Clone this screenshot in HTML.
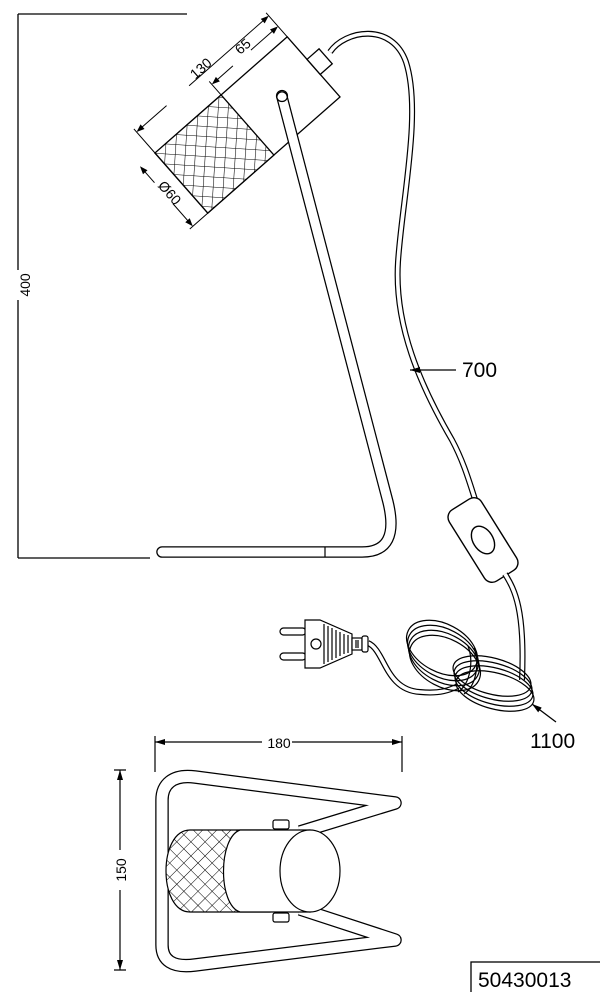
<!DOCTYPE html>
<html><head><meta charset="utf-8"><style>
html,body{margin:0;padding:0;background:#fff;}
svg{display:block;}
text{font-family:"Liberation Sans",sans-serif;fill:#000;}
</style></head><body>
<svg width="600" height="992" viewBox="0 0 600 992" xmlns="http://www.w3.org/2000/svg">
<defs>
<pattern id="mesh" width="10" height="10" patternUnits="userSpaceOnUse" patternTransform="rotate(45)">
<rect width="10" height="10" fill="#fff"/>
<path d="M0 0H10M0 0V10" stroke="#000" stroke-width="1.1"/>
</pattern>
<pattern id="mesh2" width="10" height="10" patternUnits="userSpaceOnUse" patternTransform="rotate(45)">
<rect width="10" height="10" fill="#fff"/>
<path d="M0 0H10M0 0V10" stroke="#000" stroke-width="1"/>
</pattern>
<marker id="ar" markerWidth="10" markerHeight="6" refX="10" refY="3" orient="auto" markerUnits="userSpaceOnUse">
<path d="M0 0L10 3L0 6z" fill="#000"/>
</marker>
</defs>
<g fill="none" stroke="#000" stroke-width="1.3">
<path d="M18 14H187M18 558H150M18 14V270M18 300V558"/>
</g>
<text transform="translate(30,285) rotate(-90)" font-size="14" text-anchor="middle">400</text>

<!-- cord top -->
<path d="M330 52 C345 30 392 22 406 62 C422 112 402 200 398 262 C394 325 420 385 452 440 C466 466 472 492 478 508" fill="none" stroke="#000" stroke-width="6"/>
<path d="M330 52 C345 30 392 22 406 62 C422 112 402 200 398 262 C394 325 420 385 452 440 C466 466 472 492 478 508" fill="none" stroke="#fff" stroke-width="3.6"/>

<!-- lamp head -->
<g transform="translate(155,153) rotate(-41.3)" stroke="#000" stroke-width="1.3">
<rect x="0" y="0" width="176" height="80" fill="#fff"/>
<rect x="0" y="0" width="88" height="80" fill="url(#mesh)"/>
<rect x="176" y="30" width="16" height="20" fill="#fff"/>
<path d="M0 0V-32M176 0V-32M88 0V-18" fill="none" stroke-width="1"/>
<path d="M2 -28H40M70 -28H174" fill="none" stroke-width="1"/>
<path d="M90 -14H116M140 -14H174" fill="none" stroke-width="1"/>
<path d="M0 80H-24M-20 2V22M-20 50V78" fill="none" stroke-width="1"/>
<path d="M0 -28L8 -31V-25z M176 -28L168 -31V-25z M176 -14L168 -17V-11z M88 -14L96 -17V-11z M-20 0L-23 8H-17z M-20 80L-23 72H-17z" fill="#000" stroke="none"/>
</g>
<text transform="translate(204,72) rotate(-41.3)" font-size="14" text-anchor="middle">130</text>
<text transform="translate(246,50) rotate(-41.3)" font-size="14" text-anchor="middle">65</text>
<text transform="translate(166,196) rotate(48.7)" font-size="14" text-anchor="middle">Ø60</text>

<!-- stem & base (tube) -->
<path d="M282 97 L388 502 C396 535 388 552 362 552 L162 552" fill="none" stroke="#000" stroke-width="11.5" stroke-linecap="round"/>
<path d="M282 97 L388 502 C396 535 388 552 362 552 L162 552" fill="none" stroke="#fff" stroke-width="9" stroke-linecap="round"/>
<path d="M325 547V557" stroke="#000" stroke-width="1.2"/>
<circle cx="282" cy="96" r="5.5" fill="none" stroke="#000" stroke-width="1.2"/>

<!-- 700 -->
<path d="M456 370H410" stroke="#000" stroke-width="1.3" marker-end="url(#ar)"/>
<text x="462" y="377" font-size="21">700</text>

<!-- switch -->
<g transform="translate(483,540) rotate(58)" stroke="#000" stroke-width="1.4">
<rect x="-42" y="-19" width="84" height="38" rx="9" fill="#fff"/>
<ellipse cx="0" cy="0" rx="15" ry="10" fill="none"/>
</g>
<!-- cord lower -->
<path d="M505 574 C515 590 525 610 522 680" fill="none" stroke="#000" stroke-width="6"/>
<path d="M505 574 C515 590 525 610 522 680" fill="none" stroke="#fff" stroke-width="3.6"/>
<path d="M368 643 C385 650 385 690 420 692 C440 694 450 690 458 686" fill="none" stroke="#000" stroke-width="6"/>
<path d="M368 643 C385 650 385 690 420 692 C440 694 450 690 458 686" fill="none" stroke="#fff" stroke-width="3.6"/>
<!-- coil -->
<g fill="none" stroke="#000" stroke-width="1.2">
<ellipse cx="442" cy="648" rx="38" ry="24" transform="rotate(28 442 648)"/>
<ellipse cx="443" cy="653" rx="38" ry="24" transform="rotate(28 443 653)"/>
<ellipse cx="444" cy="658" rx="38" ry="24" transform="rotate(28 444 658)"/>
<ellipse cx="445" cy="663" rx="38" ry="24" transform="rotate(28 445 663)"/>
<ellipse cx="492" cy="676" rx="40" ry="18" transform="rotate(15 492 676)"/>
<ellipse cx="493" cy="681" rx="40" ry="18" transform="rotate(15 493 681)"/>
<ellipse cx="494" cy="686" rx="40" ry="18" transform="rotate(15 494 686)"/>
<ellipse cx="495" cy="691" rx="40" ry="18" transform="rotate(15 495 691)"/>
</g>
<path d="M468 646 C474 662 470 684 458 692 M474 648 C480 664 476 686 464 694" fill="none" stroke="#000" stroke-width="1.2"/>
<!-- plug -->
<g stroke="#000" stroke-width="1.2" fill="#fff">
<rect x="280" y="628" width="26" height="7" rx="3.5"/>
<rect x="280" y="653" width="26" height="7" rx="3.5"/>
<path d="M305 620 H320 L352 634 V654 L320 668 H305 Z"/>
<circle cx="316" cy="644" r="5"/>
<rect x="352" y="638" width="10" height="12"/>
<rect x="362" y="636" width="6" height="16" rx="2"/>
</g>
<path d="M324 624V664M328 626V662M332 628V660M336 630V658M340 632V656M344 634V654M348 635V653M356 640V648M358 640V648" stroke="#000" stroke-width="1.2"/>
<!-- 1100 -->
<path d="M556 722L532 704" stroke="#000" stroke-width="1.3" marker-end="url(#ar)"/>
<text x="530" y="748" font-size="21">1100</text>

<!-- top view -->
<g fill="none" stroke="#000" stroke-width="1.2">
<path d="M155 742H262M292 742H402M155 736V772M402 736V772"/>
<path d="M114 770H126M114 970H126M120 770V850M120 890V970"/>
</g>
<path d="M155 742l10 -3v6z M402 742l-10 -3v6z M120 770l-3 10h6z M120 970l-3 -10h6z" fill="#000"/>
<text x="279" y="748" font-size="14" text-anchor="middle">180</text>
<text transform="translate(126,870) rotate(-90)" font-size="14" text-anchor="middle">150</text>
<path d="M300 832 L395 803 L195 777 C172 774 162 785 162 800 V945 C162 960 172 968 195 965 L395 940 L300 909" fill="none" stroke="#000" stroke-width="13.5" stroke-linejoin="round"/>
<path d="M300 832 L395 803 L195 777 C172 774 162 785 162 800 V945 C162 960 172 968 195 965 L395 940 L300 909" fill="none" stroke="#fff" stroke-width="11" stroke-linejoin="round"/>
<path d="M190 830 H270 V912 H190 C158 912 158 830 190 830Z" fill="url(#mesh2)" stroke="#000" stroke-width="1.2"/>
<path d="M240 830 H310 V912 H240 C218 905 218 838 240 830Z" fill="#fff" stroke="#000" stroke-width="1.2"/>
<ellipse cx="310" cy="871" rx="30" ry="41" fill="#fff" stroke="#000" stroke-width="1.2"/>
<rect x="273" y="820" width="16" height="9" rx="2" fill="#fff" stroke="#000" stroke-width="1.2"/>
<rect x="273" y="913" width="16" height="9" rx="2" fill="#fff" stroke="#000" stroke-width="1.2"/>

<rect x="471" y="962" width="140" height="40" fill="#fff" stroke="#000" stroke-width="1.3"/>
<text x="478" y="987" font-size="21">50430013</text>
</svg>
</body></html>
